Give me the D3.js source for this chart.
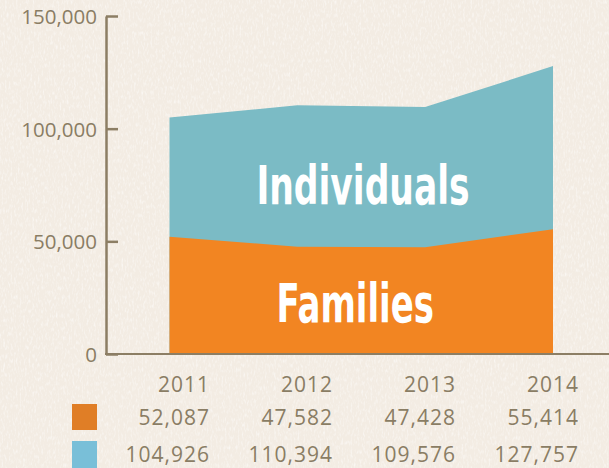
<!DOCTYPE html>
<html lang="en">
<head>
    <meta charset="UTF-8">
    <script src="https://cdnjs.cloudflare.com/ajax/libs/d3/7.8.5/d3.min.js"></script>
    <style>
        html, body { margin: 0; padding: 0; background: #f4eee6; }
        svg { display: block; }
    </style>
</head>
<body>
    <svg id="chart" width="609" height="468"></svg>
    <script>
        // data
        let years = ["2011", "2012", "2013", "2014"];
        let families = [52087, 47582, 47428, 55414];
        let individuals = [104926, 110394, 109576, 127757];
        let yTicks = [0, 50000, 100000, 150000];

        let axisColor = "#8c7e64";
        let textColor = "#8a7d64";

        let svg = d3.select("#chart");

        // paper texture
        let defs = svg.append("defs");
        let f = defs.append("filter").attr("id", "paper")
            .attr("x", 0).attr("y", 0).attr("width", "100%").attr("height", "100%");
        f.append("feTurbulence").attr("type", "fractalNoise")
            .attr("baseFrequency", "0.55 0.22").attr("numOctaves", 2).attr("seed", 4);
        f.append("feColorMatrix").attr("type", "matrix")
            .attr("values", "0 0 0 0 1  0 0 0 0 1  0 0 0 0 1  1.6 0 0 0 -0.75");
        svg.append("rect").attr("width", 609).attr("height", 468).attr("fill", "#f3ece3");
        svg.append("rect").attr("width", 609).attr("height", 468).attr("filter", "url(#paper)").attr("opacity", 0.8);

        let x = d3.scalePoint().domain(years).range([169.5, 553]);
        let y = d3.scaleLinear().domain([0, 150000]).range([354, 16]);

        let totals = years.map((yr, i) => ({year: yr, v: individuals[i]}));
        let fam = years.map((yr, i) => ({year: yr, v: families[i]}));

        let area = d3.area()
            .x(d => x(d.year))
            .y0(y(0))
            .y1(d => y(d.v));

        svg.append("path").datum(totals).attr("d", area).attr("fill", "#7bbbc5");
        svg.append("path").datum(fam).attr("d", area).attr("fill", "#f28522");

        // area labels
        let labelFont = "'Liberation Sans Narrow', 'DejaVu Sans Condensed', 'Arial Narrow', sans-serif";
        svg.append("text").text("Individuals")
            .attr("x", 256.5).attr("y", 203.5)
            .attr("textLength", 213).attr("lengthAdjust", "spacingAndGlyphs")
            .attr("fill", "#fff").style("font-family", labelFont)
            .style("font-weight", "bold").style("font-size", "53px");
        svg.append("text").text("Families")
            .attr("x", 276.5).attr("y", 321.5)
            .attr("textLength", 157.5).attr("lengthAdjust", "spacingAndGlyphs")
            .attr("fill", "#fff").style("font-family", labelFont)
            .style("font-weight", "bold").style("font-size", "54px");

        // x axis baseline
        svg.append("line")
            .attr("x1", 105).attr("x2", 609)
            .attr("y1", y(0)).attr("y2", y(0))
            .attr("stroke", axisColor).attr("stroke-width", 2);

        // y axis
        let yAxis = d3.axisLeft(y).tickValues(yTicks)
            .tickSizeInner(-12).tickSizeOuter(0).tickPadding(9)
            .tickFormat(d3.format(","));
        let yg = svg.append("g").attr("transform", "translate(106,0)").call(yAxis);
        yg.select(".domain").attr("stroke", axisColor).attr("stroke-width", 2.5);
        yg.selectAll(".tick line").attr("stroke", axisColor).attr("stroke-width", 2.5);
        yg.selectAll(".tick text")
            .attr("fill", textColor).attr("dy", "0.36em")
            .style("font-family", "'Open Sans', sans-serif").style("font-size", "20.5px");

        // table under the chart
        let colRight = d3.scalePoint().domain(years).range([209, 578]);
        let tableFont = "'Open Sans', sans-serif";
        let rows = [
            {vals: years, y: 392},
            {vals: families.map(d3.format(",")), y: 425},
            {vals: individuals.map(d3.format(",")), y: 462}
        ];
        rows.forEach(r => {
            svg.append("g").selectAll("text")
                .data(r.vals)
                .enter()
                .append("text")
                .attr("x", (d, i) => colRight(years[i]) + 1)
                .attr("y", r.y)
                .attr("text-anchor", "end")
                .attr("fill", textColor)
                .style("letter-spacing", "1px")
                .style("font-family", tableFont)
                .style("font-size", "21px")
                .text(d => d);
        });

        // legend swatches
        svg.append("rect").attr("x", 72).attr("y", 404).attr("width", 25).attr("height", 26).attr("fill", "#e07e26");
        svg.append("rect").attr("x", 72).attr("y", 441).attr("width", 25).attr("height", 30).attr("fill", "#79bfd8");
    </script>
</body>
</html>
